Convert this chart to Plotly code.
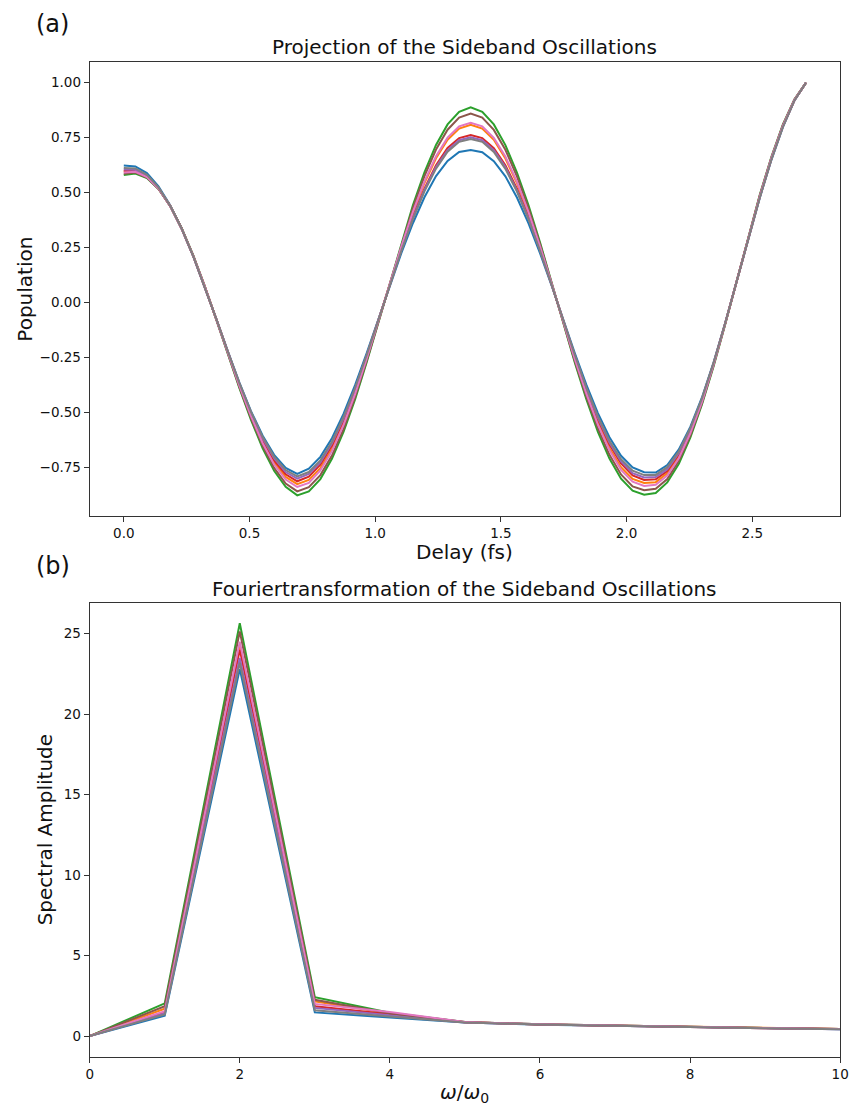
import plotly.graph_objects as go

# Delay grid (fs): 60 samples, 0.046 fs apart
delay_fs = [round(0.046 * k, 3) for k in range(60)]

# Projected sideband populations, one list per run
pop_s1 = [0.623, 0.619, 0.589, 0.529, 0.444, 0.338, 0.212, 0.073, -0.074, -0.221,
          -0.363, -0.493, -0.604, -0.692, -0.751, -0.778, -0.755, -0.701, -0.616, -0.506,
          -0.375, -0.230, -0.078, 0.077, 0.225, 0.361, 0.479, 0.575, 0.644, 0.685,
          0.694, 0.684, 0.643, 0.574, 0.478, 0.360, 0.224, 0.077, -0.077, -0.229,
          -0.373, -0.502, -0.612, -0.696, -0.749, -0.771, -0.772, -0.738, -0.667, -0.564,
          -0.431, -0.272, -0.094, 0.096, 0.288, 0.476, 0.648, 0.798, 0.919, 1.000]
pop_s2 = [0.596, 0.598, 0.573, 0.519, 0.440, 0.336, 0.213, 0.074, -0.075, -0.226,
          -0.375, -0.511, -0.630, -0.726, -0.792, -0.825, -0.806, -0.752, -0.665, -0.549,
          -0.410, -0.253, -0.086, 0.086, 0.252, 0.407, 0.544, 0.656, 0.740, 0.791,
          0.808, 0.791, 0.740, 0.655, 0.543, 0.406, 0.251, 0.085, -0.085, -0.252,
          -0.408, -0.547, -0.662, -0.748, -0.801, -0.820, -0.816, -0.776, -0.698, -0.587,
          -0.446, -0.280, -0.097, 0.098, 0.294, 0.483, 0.655, 0.804, 0.921, 1.000]
pop_s3 = [0.580, 0.587, 0.566, 0.517, 0.441, 0.340, 0.216, 0.075, -0.077, -0.234,
          -0.389, -0.533, -0.661, -0.764, -0.837, -0.876, -0.858, -0.802, -0.710, -0.588,
          -0.440, -0.272, -0.093, 0.093, 0.273, 0.442, 0.592, 0.717, 0.810, 0.867,
          0.888, 0.867, 0.810, 0.716, 0.591, 0.442, 0.273, 0.093, -0.092, -0.272,
          -0.439, -0.587, -0.709, -0.800, -0.855, -0.873, -0.865, -0.817, -0.732, -0.613,
          -0.463, -0.290, -0.100, 0.101, 0.299, 0.490, 0.662, 0.810, 0.925, 1.000]
pop_s4 = [0.600, 0.600, 0.574, 0.519, 0.440, 0.336, 0.212, 0.073, -0.075, -0.225,
          -0.371, -0.505, -0.623, -0.717, -0.780, -0.812, -0.791, -0.736, -0.649, -0.535,
          -0.398, -0.245, -0.083, 0.082, 0.242, 0.390, 0.518, 0.625, 0.703, 0.748,
          0.762, 0.748, 0.702, 0.624, 0.518, 0.389, 0.241, 0.082, -0.082, -0.243,
          -0.396, -0.531, -0.645, -0.731, -0.785, -0.806, -0.803, -0.765, -0.689, -0.581,
          -0.442, -0.278, -0.096, 0.098, 0.292, 0.481, 0.653, 0.803, 0.920, 1.000]
pop_s5 = [0.605, 0.604, 0.577, 0.521, 0.440, 0.335, 0.211, 0.073, -0.074, -0.223,
          -0.368, -0.500, -0.616, -0.707, -0.770, -0.800, -0.779, -0.726, -0.639, -0.527,
          -0.392, -0.241, -0.082, 0.081, 0.238, 0.384, 0.512, 0.616, 0.693, 0.738,
          0.752, 0.738, 0.693, 0.616, 0.510, 0.383, 0.238, 0.081, -0.081, -0.240,
          -0.391, -0.524, -0.636, -0.721, -0.775, -0.795, -0.793, -0.757, -0.683, -0.575,
          -0.438, -0.276, -0.095, 0.097, 0.291, 0.479, 0.652, 0.801, 0.919, 1.000]
pop_s6 = [0.586, 0.591, 0.569, 0.518, 0.441, 0.339, 0.215, 0.075, -0.077, -0.231,
          -0.384, -0.525, -0.650, -0.751, -0.822, -0.858, -0.839, -0.784, -0.695, -0.575,
          -0.430, -0.265, -0.090, 0.090, 0.265, 0.430, 0.575, 0.696, 0.786, 0.841,
          0.860, 0.841, 0.785, 0.695, 0.574, 0.429, 0.265, 0.090, -0.090, -0.265,
          -0.428, -0.572, -0.692, -0.781, -0.835, -0.853, -0.846, -0.802, -0.719, -0.603,
          -0.457, -0.286, -0.098, 0.100, 0.297, 0.487, 0.660, 0.807, 0.923, 1.000]
pop_s7 = [0.592, 0.595, 0.571, 0.519, 0.440, 0.337, 0.213, 0.074, -0.076, -0.229,
          -0.378, -0.516, -0.638, -0.736, -0.804, -0.838, -0.819, -0.763, -0.675, -0.557,
          -0.416, -0.256, -0.087, 0.087, 0.255, 0.413, 0.551, 0.665, 0.750, 0.801,
          0.818, 0.801, 0.749, 0.664, 0.550, 0.412, 0.255, 0.087, -0.087, -0.256,
          -0.414, -0.555, -0.671, -0.760, -0.814, -0.833, -0.828, -0.786, -0.707, -0.593,
          -0.451, -0.282, -0.097, 0.099, 0.295, 0.484, 0.657, 0.805, 0.922, 1.000]
pop_s8 = [0.612, 0.610, 0.581, 0.524, 0.441, 0.336, 0.211, 0.073, -0.074, -0.222,
          -0.366, -0.497, -0.610, -0.700, -0.761, -0.790, -0.770, -0.717, -0.632, -0.520,
          -0.388, -0.239, -0.081, 0.080, 0.235, 0.380, 0.506, 0.609, 0.686, 0.731,
          0.744, 0.731, 0.685, 0.608, 0.505, 0.379, 0.235, 0.080, -0.080, -0.237,
          -0.386, -0.517, -0.628, -0.712, -0.764, -0.784, -0.783, -0.748, -0.676, -0.570,
          -0.435, -0.274, -0.095, 0.097, 0.290, 0.477, 0.650, 0.799, 0.919, 1.000]

# Harmonic order axis and spectral amplitudes per run
omega_ratio = [0, 1, 2, 3, 4, 5, 6, 7, 8, 9, 10]
amp_s1 = [0, 1.26, 22.80, 1.47, 1.15, 0.84, 0.71, 0.63, 0.55, 0.49, 0.43]
amp_s2 = [0, 1.70, 24.30, 2.15, 1.40, 0.86, 0.72, 0.64, 0.56, 0.50, 0.44]
amp_s3 = [0, 2.03, 25.65, 2.42, 1.45, 0.87, 0.73, 0.64, 0.56, 0.50, 0.44]
amp_s4 = [0, 1.45, 24.00, 1.85, 1.35, 0.86, 0.72, 0.63, 0.56, 0.49, 0.44]
amp_s5 = [0, 1.40, 23.50, 1.75, 1.30, 0.85, 0.72, 0.63, 0.55, 0.49, 0.43]
amp_s6 = [0, 1.85, 25.15, 2.25, 1.42, 0.87, 0.73, 0.64, 0.56, 0.50, 0.44]
amp_s7 = [0, 1.55, 24.50, 2.00, 1.50, 0.87, 0.73, 0.64, 0.56, 0.50, 0.44]
amp_s8 = [0, 1.35, 23.20, 1.60, 1.22, 0.85, 0.72, 0.63, 0.55, 0.49, 0.43]

colors = ["#1f77b4", "#ff7f0e", "#2ca02c", "#d62728",
          "#9467bd", "#8c564b", "#e377c2", "#7f7f7f"]
pop_runs = [pop_s1, pop_s2, pop_s3, pop_s4, pop_s5, pop_s6, pop_s7, pop_s8]
amp_runs = [amp_s1, amp_s2, amp_s3, amp_s4, amp_s5, amp_s6, amp_s7, amp_s8]

W, H = 859, 1110
FONT = "DejaVu Sans"
TXT = "#111111"

fig = go.Figure()
for ys, c in zip(pop_runs, colors):
    fig.add_trace(go.Scatter(x=delay_fs, y=ys, mode="lines",
                             line=dict(color=c, width=2),
                             xaxis="x", yaxis="y", showlegend=False))
for ys, c in zip(amp_runs, colors):
    fig.add_trace(go.Scatter(x=omega_ratio, y=ys, mode="lines",
                             line=dict(color=c, width=2),
                             xaxis="x2", yaxis="y2", showlegend=False))

def px_x(p):
    return p / W

def px_y(p):
    return 1 - p / H

axis_common = dict(showline=True, linecolor="#333333", linewidth=1, mirror=True,
                   ticks="outside", ticklen=5, tickwidth=1, tickcolor="#333333",
                   showgrid=False, zeroline=False,
                   tickfont=dict(family=FONT, size=13.5, color=TXT))

x_dom = [px_x(87), px_x(849)]

fig.update_layout(
    width=W, height=H,
    margin=dict(l=0, r=0, t=0, b=0),
    paper_bgcolor="white", plot_bgcolor="white",
    xaxis=dict(domain=x_dom, anchor="y", range=[-0.1357, 2.8497],
               tickvals=[0, 0.5, 1.0, 1.5, 2.0, 2.5], tickformat=".1f", **axis_common),
    yaxis=dict(domain=[px_y(516), px_y(62)], anchor="x", range=[-0.9698, 1.0938],
               tickvals=[-0.75, -0.5, -0.25, 0, 0.25, 0.5, 0.75, 1.0], tickformat=".2f",
               **axis_common),
    xaxis2=dict(domain=x_dom, anchor="y2", range=[0, 10],
                tickvals=[0, 2, 4, 6, 8, 10], **axis_common),
    yaxis2=dict(domain=[px_y(1056.7), px_y(602.7)], anchor="x2", range=[-1.2825, 26.93],
                tickvals=[0, 5, 10, 15, 20, 25], **axis_common),
)

def label(text, x, y, size, angle=0, xanchor="center"):
    fig.add_annotation(text=text, x=px_x(x), y=px_y(y), xref="paper", yref="paper",
                       xanchor=xanchor, yanchor="middle", showarrow=False,
                       textangle=angle, borderpad=0,
                       font=dict(family=FONT, size=size, color=TXT))

label("(a)", 31, 24, 24, xanchor="left")
label("(b)", 31, 566, 24, xanchor="left")
label("Projection of the Sideband Oscillations", 468, 47, 20)
label("Fouriertransformation of the Sideband Oscillations", 468, 589, 20)
label("Delay (fs)", 468, 552, 20)
label("<i>ω</i>/<i>ω</i><sub>0</sub>", 468, 1093, 20)
label("Population", 21, 289, 20, angle=-90)
label("Spectral Amplitude", 42, 830, 20, angle=-90)

fig.write_html("out.html")
